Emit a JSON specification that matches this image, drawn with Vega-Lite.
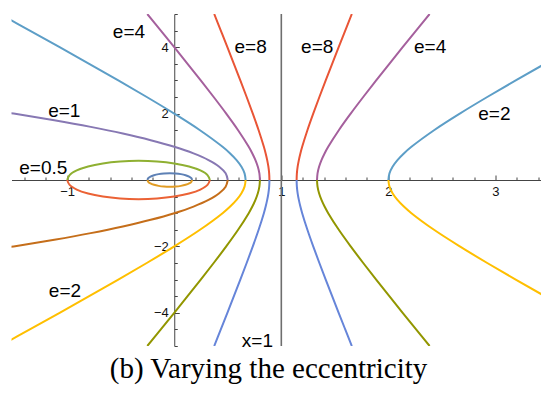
{
  "$schema": "https://vega.github.io/schema/vega-lite/v6.json",
  "autosize": "none",
  "width": 530,
  "height": 332,
  "padding": {"left": 11.5, "top": 14, "right": 0, "bottom": 48},
  "background": "white",
  "config": {"view": {"stroke": null}},
  "title": {"text": "(b) Varying the eccentricity", "orient": "bottom", "font": "Liberation Serif", "fontSize": 29, "fontWeight": "normal", "color": "#000000", "offset": 4, "dx": -8, "anchor": "middle"},
  "resolve": {"axis": {"x": "independent", "y": "independent"}},
  "layer": [
    {
      "data": {"values": [
        {"s":"a","c":"c01","x":0.1667,"y":0},{"s":"a","c":"c01","x":0.1596,"y":0.0528},{"s":"a","c":"c01","x":0.1388,"y":0.1021},{"s":"a","c":"c01","x":0.1056,"y":0.1443},{"s":"a","c":"c01","x":0.0625,"y":0.1768},{"s":"a","c":"c01","x":0.0123,"y":0.1972},{"s":"a","c":"c01","x":-0.0417,"y":0.2041},{"s":"a","c":"c01","x":-0.0956,"y":0.1972},{"s":"a","c":"c01","x":-0.1458,"y":0.1768},{"s":"a","c":"c01","x":-0.189,"y":0.1443},{"s":"a","c":"c01","x":-0.2221,"y":0.1021},{"s":"a","c":"c01","x":-0.2429,"y":0.0528},{"s":"a","c":"c01","x":-0.25,"y":0},
        {"s":"b","c":"c02","x":0.1667,"y":0},{"s":"b","c":"c02","x":0.1596,"y":-0.0528},{"s":"b","c":"c02","x":0.1388,"y":-0.1021},{"s":"b","c":"c02","x":0.1056,"y":-0.1443},{"s":"b","c":"c02","x":0.0625,"y":-0.1768},{"s":"b","c":"c02","x":0.0123,"y":-0.1972},{"s":"b","c":"c02","x":-0.0417,"y":-0.2041},{"s":"b","c":"c02","x":-0.0956,"y":-0.1972},{"s":"b","c":"c02","x":-0.1458,"y":-0.1768},{"s":"b","c":"c02","x":-0.189,"y":-0.1443},{"s":"b","c":"c02","x":-0.2221,"y":-0.1021},{"s":"b","c":"c02","x":-0.2429,"y":-0.0528},{"s":"b","c":"c02","x":-0.25,"y":0},
        {"s":"c","c":"c03","x":0.3333,"y":0},{"s":"c","c":"c03","x":0.3106,"y":0.1494},{"s":"c","c":"c03","x":0.244,"y":0.2887},{"s":"c","c":"c03","x":0.1381,"y":0.4082},{"s":"c","c":"c03","x":0,"y":0.5},{"s":"c","c":"c03","x":-0.1608,"y":0.5577},{"s":"c","c":"c03","x":-0.3333,"y":0.5774},{"s":"c","c":"c03","x":-0.5058,"y":0.5577},{"s":"c","c":"c03","x":-0.6667,"y":0.5},{"s":"c","c":"c03","x":-0.8047,"y":0.4082},{"s":"c","c":"c03","x":-0.9107,"y":0.2887},{"s":"c","c":"c03","x":-0.9773,"y":0.1494},{"s":"c","c":"c03","x":-1,"y":0},
        {"s":"d","c":"c04","x":0.3333,"y":0},{"s":"d","c":"c04","x":0.3106,"y":-0.1494},{"s":"d","c":"c04","x":0.244,"y":-0.2887},{"s":"d","c":"c04","x":0.1381,"y":-0.4082},{"s":"d","c":"c04","x":0,"y":-0.5},{"s":"d","c":"c04","x":-0.1608,"y":-0.5577},{"s":"d","c":"c04","x":-0.3333,"y":-0.5774},{"s":"d","c":"c04","x":-0.5058,"y":-0.5577},{"s":"d","c":"c04","x":-0.6667,"y":-0.5},{"s":"d","c":"c04","x":-0.8047,"y":-0.4082},{"s":"d","c":"c04","x":-0.9107,"y":-0.2887},{"s":"d","c":"c04","x":-0.9773,"y":-0.1494},{"s":"d","c":"c04","x":-1,"y":0},
        {"s":"e","c":"c05","x":0.5,"y":0},{"s":"e","c":"c05","x":0.48,"y":0.2},{"s":"e","c":"c05","x":0.42,"y":0.4},{"s":"e","c":"c05","x":0.32,"y":0.6},{"s":"e","c":"c05","x":0.18,"y":0.8},{"s":"e","c":"c05","x":0,"y":1},{"s":"e","c":"c05","x":-0.22,"y":1.2},{"s":"e","c":"c05","x":-0.48,"y":1.4},{"s":"e","c":"c05","x":-0.78,"y":1.6},{"s":"e","c":"c05","x":-1.12,"y":1.8},{"s":"e","c":"c05","x":-1.5,"y":2},{"s":"e","c":"c05","x":-1.92,"y":2.2},
        {"s":"f","c":"c06","x":0.5,"y":0},{"s":"f","c":"c06","x":0.48,"y":-0.2},{"s":"f","c":"c06","x":0.42,"y":-0.4},{"s":"f","c":"c06","x":0.32,"y":-0.6},{"s":"f","c":"c06","x":0.18,"y":-0.8},{"s":"f","c":"c06","x":0,"y":-1},{"s":"f","c":"c06","x":-0.22,"y":-1.2},{"s":"f","c":"c06","x":-0.48,"y":-1.4},{"s":"f","c":"c06","x":-0.78,"y":-1.6},{"s":"f","c":"c06","x":-1.12,"y":-1.8},{"s":"f","c":"c06","x":-1.5,"y":-2},{"s":"f","c":"c06","x":-1.92,"y":-2.2},
        {"s":"g","c":"c07","x":0.6667,"y":0},{"s":"g","c":"c07","x":0.6567,"y":0.2},{"s":"g","c":"c07","x":0.6278,"y":0.4},{"s":"g","c":"c07","x":0.582,"y":0.6},{"s":"g","c":"c07","x":0.5223,"y":0.8},{"s":"g","c":"c07","x":0.4514,"y":1},{"s":"g","c":"c07","x":0.2404,"y":1.5},{"s":"g","c":"c07","x":0,"y":2},{"s":"g","c":"c07","x":-0.2566,"y":2.5},{"s":"g","c":"c07","x":-0.5226,"y":3},{"s":"g","c":"c07","x":-0.7945,"y":3.5},{"s":"g","c":"c07","x":-1.0704,"y":4},{"s":"g","c":"c07","x":-1.3489,"y":4.5},{"s":"g","c":"c07","x":-1.6294,"y":5},
        {"s":"h","c":"c07","x":2,"y":0},{"s":"h","c":"c07","x":2.0099,"y":0.2},{"s":"h","c":"c07","x":2.0389,"y":0.4},{"s":"h","c":"c07","x":2.0846,"y":0.6},{"s":"h","c":"c07","x":2.1444,"y":0.8},{"s":"h","c":"c07","x":2.2153,"y":1},{"s":"h","c":"c07","x":2.4262,"y":1.5},{"s":"h","c":"c07","x":2.6667,"y":2},{"s":"h","c":"c07","x":2.9232,"y":2.5},{"s":"h","c":"c07","x":3.1893,"y":3},{"s":"h","c":"c07","x":3.4612,"y":3.5},{"s":"h","c":"c07","x":3.737,"y":4},
        {"s":"i","c":"c08","x":0.6667,"y":0},{"s":"i","c":"c08","x":0.6567,"y":-0.2},{"s":"i","c":"c08","x":0.6278,"y":-0.4},{"s":"i","c":"c08","x":0.582,"y":-0.6},{"s":"i","c":"c08","x":0.5223,"y":-0.8},{"s":"i","c":"c08","x":0.4514,"y":-1},{"s":"i","c":"c08","x":0.2404,"y":-1.5},{"s":"i","c":"c08","x":0,"y":-2},{"s":"i","c":"c08","x":-0.2566,"y":-2.5},{"s":"i","c":"c08","x":-0.5226,"y":-3},{"s":"i","c":"c08","x":-0.7945,"y":-3.5},{"s":"i","c":"c08","x":-1.0704,"y":-4},{"s":"i","c":"c08","x":-1.3489,"y":-4.5},{"s":"i","c":"c08","x":-1.6294,"y":-5},
        {"s":"j","c":"c08","x":2,"y":0},{"s":"j","c":"c08","x":2.0099,"y":-0.2},{"s":"j","c":"c08","x":2.0389,"y":-0.4},{"s":"j","c":"c08","x":2.0846,"y":-0.6},{"s":"j","c":"c08","x":2.1444,"y":-0.8},{"s":"j","c":"c08","x":2.2153,"y":-1},{"s":"j","c":"c08","x":2.4262,"y":-1.5},{"s":"j","c":"c08","x":2.6667,"y":-2},{"s":"j","c":"c08","x":2.9232,"y":-2.5},{"s":"j","c":"c08","x":3.1893,"y":-3},{"s":"j","c":"c08","x":3.4612,"y":-3.5},{"s":"j","c":"c08","x":3.737,"y":-4},
        {"s":"k","c":"c09","x":0.8,"y":0},{"s":"k","c":"c09","x":0.7951,"y":0.2},{"s":"k","c":"c09","x":0.7807,"y":0.4},{"s":"k","c":"c09","x":0.7583,"y":0.6},{"s":"k","c":"c09","x":0.7294,"y":0.8},{"s":"k","c":"c09","x":0.6955,"y":1},{"s":"k","c":"c09","x":0.5964,"y":1.5},{"s":"k","c":"c09","x":0.4855,"y":2},{"s":"k","c":"c09","x":0.3683,"y":2.5},{"s":"k","c":"c09","x":0.2475,"y":3},{"s":"k","c":"c09","x":0.1244,"y":3.5},{"s":"k","c":"c09","x":0,"y":4},{"s":"k","c":"c09","x":-0.1254,"y":4.5},{"s":"k","c":"c09","x":-0.2516,"y":5},
        {"s":"l","c":"c09","x":1.3333,"y":0},{"s":"l","c":"c09","x":1.3383,"y":0.2},{"s":"l","c":"c09","x":1.3526,"y":0.4},{"s":"l","c":"c09","x":1.3751,"y":0.6},{"s":"l","c":"c09","x":1.404,"y":0.8},{"s":"l","c":"c09","x":1.4379,"y":1},{"s":"l","c":"c09","x":1.5369,"y":1.5},{"s":"l","c":"c09","x":1.6479,"y":2},{"s":"l","c":"c09","x":1.7651,"y":2.5},{"s":"l","c":"c09","x":1.8859,"y":3},{"s":"l","c":"c09","x":2.0089,"y":3.5},{"s":"l","c":"c09","x":2.1333,"y":4},{"s":"l","c":"c09","x":2.2588,"y":4.5},{"s":"l","c":"c09","x":2.3849,"y":5},
        {"s":"m","c":"c10","x":0.8,"y":0},{"s":"m","c":"c10","x":0.7951,"y":-0.2},{"s":"m","c":"c10","x":0.7807,"y":-0.4},{"s":"m","c":"c10","x":0.7583,"y":-0.6},{"s":"m","c":"c10","x":0.7294,"y":-0.8},{"s":"m","c":"c10","x":0.6955,"y":-1},{"s":"m","c":"c10","x":0.5964,"y":-1.5},{"s":"m","c":"c10","x":0.4855,"y":-2},{"s":"m","c":"c10","x":0.3683,"y":-2.5},{"s":"m","c":"c10","x":0.2475,"y":-3},{"s":"m","c":"c10","x":0.1244,"y":-3.5},{"s":"m","c":"c10","x":0,"y":-4},{"s":"m","c":"c10","x":-0.1254,"y":-4.5},{"s":"m","c":"c10","x":-0.2516,"y":-5},
        {"s":"n","c":"c10","x":1.3333,"y":0},{"s":"n","c":"c10","x":1.3383,"y":-0.2},{"s":"n","c":"c10","x":1.3526,"y":-0.4},{"s":"n","c":"c10","x":1.3751,"y":-0.6},{"s":"n","c":"c10","x":1.404,"y":-0.8},{"s":"n","c":"c10","x":1.4379,"y":-1},{"s":"n","c":"c10","x":1.5369,"y":-1.5},{"s":"n","c":"c10","x":1.6479,"y":-2},{"s":"n","c":"c10","x":1.7651,"y":-2.5},{"s":"n","c":"c10","x":1.8859,"y":-3},{"s":"n","c":"c10","x":2.0089,"y":-3.5},{"s":"n","c":"c10","x":2.1333,"y":-4},{"s":"n","c":"c10","x":2.2588,"y":-4.5},{"s":"n","c":"c10","x":2.3849,"y":-5},
        {"s":"o","c":"c11","x":0.8889,"y":0},{"s":"o","c":"c11","x":0.8864,"y":0.2},{"s":"o","c":"c11","x":0.8793,"y":0.4},{"s":"o","c":"c11","x":0.8681,"y":0.6},{"s":"o","c":"c11","x":0.8538,"y":0.8},{"s":"o","c":"c11","x":0.837,"y":1},{"s":"o","c":"c11","x":0.7882,"y":1.5},{"s":"o","c":"c11","x":0.7337,"y":2},{"s":"o","c":"c11","x":0.6763,"y":2.5},{"s":"o","c":"c11","x":0.6171,"y":3},{"s":"o","c":"c11","x":0.557,"y":3.5},{"s":"o","c":"c11","x":0.4962,"y":4},{"s":"o","c":"c11","x":0.4349,"y":4.5},{"s":"o","c":"c11","x":0.3733,"y":5},
        {"s":"p","c":"c11","x":1.1429,"y":0},{"s":"p","c":"c11","x":1.1453,"y":0.2},{"s":"p","c":"c11","x":1.1525,"y":0.4},{"s":"p","c":"c11","x":1.1637,"y":0.6},{"s":"p","c":"c11","x":1.178,"y":0.8},{"s":"p","c":"c11","x":1.1948,"y":1},{"s":"p","c":"c11","x":1.2436,"y":1.5},{"s":"p","c":"c11","x":1.298,"y":2},{"s":"p","c":"c11","x":1.3555,"y":2.5},{"s":"p","c":"c11","x":1.4146,"y":3},{"s":"p","c":"c11","x":1.4748,"y":3.5},{"s":"p","c":"c11","x":1.5356,"y":4},{"s":"p","c":"c11","x":1.5969,"y":4.5},{"s":"p","c":"c11","x":1.6585,"y":5},
        {"s":"q","c":"c12","x":0.8889,"y":0},{"s":"q","c":"c12","x":0.8864,"y":-0.2},{"s":"q","c":"c12","x":0.8793,"y":-0.4},{"s":"q","c":"c12","x":0.8681,"y":-0.6},{"s":"q","c":"c12","x":0.8538,"y":-0.8},{"s":"q","c":"c12","x":0.837,"y":-1},{"s":"q","c":"c12","x":0.7882,"y":-1.5},{"s":"q","c":"c12","x":0.7337,"y":-2},{"s":"q","c":"c12","x":0.6763,"y":-2.5},{"s":"q","c":"c12","x":0.6171,"y":-3},{"s":"q","c":"c12","x":0.557,"y":-3.5},{"s":"q","c":"c12","x":0.4962,"y":-4},{"s":"q","c":"c12","x":0.4349,"y":-4.5},{"s":"q","c":"c12","x":0.3733,"y":-5},
        {"s":"r","c":"c12","x":1.1429,"y":0},{"s":"r","c":"c12","x":1.1453,"y":-0.2},{"s":"r","c":"c12","x":1.1525,"y":-0.4},{"s":"r","c":"c12","x":1.1637,"y":-0.6},{"s":"r","c":"c12","x":1.178,"y":-0.8},{"s":"r","c":"c12","x":1.1948,"y":-1},{"s":"r","c":"c12","x":1.2436,"y":-1.5},{"s":"r","c":"c12","x":1.298,"y":-2},{"s":"r","c":"c12","x":1.3555,"y":-2.5},{"s":"r","c":"c12","x":1.4146,"y":-3},{"s":"r","c":"c12","x":1.4748,"y":-3.5},{"s":"r","c":"c12","x":1.5356,"y":-4},{"s":"r","c":"c12","x":1.5969,"y":-4.5},{"s":"r","c":"c12","x":1.6585,"y":-5}
      ]},
      "mark": {"type": "line", "strokeWidth": 2, "clip": true, "interpolate": "catmull-rom"},
      "encoding": {
        "x": {"field": "x", "type": "quantitative",
          "scale": {"domain": [-1.52, 3.43], "nice": false, "zero": false},
          "axis": {"orient": "bottom", "offset": -166, "title": null, "grid": false,
            "values": [-1, 1, 2, 3], "format": "d", "tickSize": -5,
            "labelPadding": 10, "labelOverlap": false, "labelFlush": false, "labelBound": false,
            "labelFont": "Liberation Sans", "labelFontSize": 13, "labelColor": "#111111",
            "domainColor": "#444444", "tickColor": "#444444", "domainWidth": 1, "tickWidth": 1}},
        "y": {"field": "y", "type": "quantitative",
          "scale": {"domain": [-5, 5], "nice": false, "zero": false},
          "axis": {"orient": "left", "offset": -162.75, "title": null, "grid": false,
            "values": [-4, -2, 2, 4], "format": "d", "tickSize": -5,
            "labelPadding": 11, "labelOverlap": false, "labelFlush": false, "labelBound": false,
            "labelFont": "Liberation Sans", "labelFontSize": 13, "labelColor": "#111111",
            "domainColor": "#444444", "tickColor": "#444444", "domainWidth": 1, "tickWidth": 1}},
        "color": {"field": "c", "type": "nominal", "legend": null,
          "scale": {"domain": ["c01","c02","c03","c04","c05","c06","c07","c08","c09","c10","c11","c12"],
            "range": ["#5E81B5","#E19C24","#8FB032","#EB6235","#8778B3","#C56E1A","#5D9EC7","#FFBF00","#A5609D","#929600","#E95536","#6685D9"]}},
        "detail": {"field": "s", "type": "nominal"}
      }
    },
    {
      "data": {"values": [{}]},
      "mark": {"type": "rule", "color": "#6e6e6e", "strokeWidth": 1.6},
      "encoding": {"x": {"datum": 1, "axis": null}}
    },
    {
      "data": {"values": [
        {"t": "e=4", "x": -0.423, "y": 4.277},
        {"t": "e=8", "x": 0.713, "y": 3.816},
        {"t": "e=1", "x": -1.027, "y": 1.889},
        {"t": "e=0.5", "x": -1.223, "y": 0.172},
        {"t": "e=8", "x": 1.335, "y": 3.816},
        {"t": "e=4", "x": 2.39, "y": 3.816},
        {"t": "e=2", "x": 2.99, "y": 1.807},
        {"t": "e=2", "x": -1.021, "y": -3.515},
        {"t": "x=1", "x": 0.777, "y": -5.02}
      ]},
      "mark": {"type": "text", "font": "Liberation Sans", "fontSize": 19, "color": "#000000", "align": "center", "baseline": "alphabetic"},
      "encoding": {
        "x": {"field": "x", "type": "quantitative",
          "axis": {"orient": "bottom", "offset": -166, "title": null, "grid": false, "labels": false, "domain": false,
            "values": [-1.4,-1.2,-0.8,-0.6,-0.4,-0.2,0.2,0.4,0.6,0.8,1.2,1.4,1.6,1.8,2.2,2.4,2.6,2.8,3.2,3.4],
            "tickSize": -3, "tickColor": "#444444", "tickWidth": 1}},
        "y": {"field": "y", "type": "quantitative",
          "axis": {"orient": "left", "offset": -162.75, "title": null, "grid": false, "labels": false, "domain": false,
            "values": [-5,-4.5,-3.5,-3,-2.5,-1.5,-1,-0.5,0.5,1,1.5,2.5,3,3.5,4.5,5],
            "tickSize": -3, "tickColor": "#444444", "tickWidth": 1}},
        "text": {"field": "t"}
      }
    }
  ]
}
